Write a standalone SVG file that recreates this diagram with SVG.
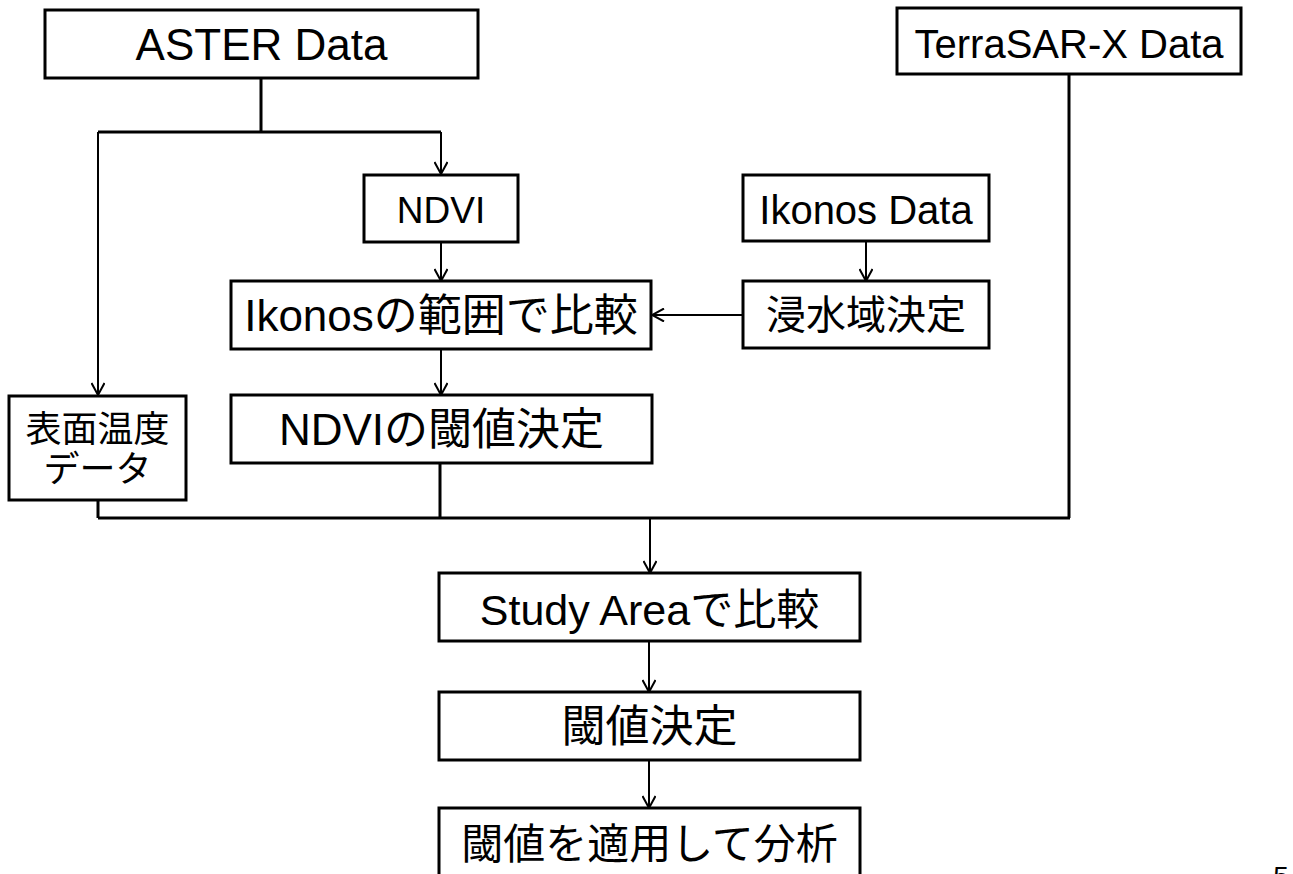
<svg xmlns="http://www.w3.org/2000/svg" width="1293" height="874" viewBox="0 0 1293 874">
<style>
.box{fill:#fff;stroke:#000;stroke-width:3}
.t{font-family:"Liberation Sans","Noto Sans CJK JP",Arial,sans-serif;fill:#000;text-anchor:middle}
.ln{fill:none;stroke:#000;stroke-width:3}
.ar{fill:none;stroke:#000;stroke-width:2;marker-end:url(#ah)}
</style>
<defs>
<marker id="ah" markerUnits="userSpaceOnUse" viewBox="0 0 14 14" refX="13" refY="7" markerWidth="14" markerHeight="14" orient="auto">
<path d="M1,0.5 L13,7 L1,13.5" fill="none" stroke="#000" stroke-width="2"/>
</marker>
</defs>
<rect width="1293" height="874" fill="#fff"/>
<g id="connectors">
<path class="ln" d="M261,78 V132 M98,132 H441"/>
<path class="ar" d="M98,132 V395"/>
<path class="ar" d="M441,132 V174"/>
<path class="ar" d="M441,242 V281"/>
<path class="ar" d="M866,241 V281"/>
<path class="ar" d="M743,315 H652"/>
<path class="ar" d="M441,349 V395"/>
<path class="ln" d="M98,500 V518 M440,463 V518 M1069,74 V518 M98,518 H1070"/>
<path class="ar" d="M650,518 V573"/>
<path class="ar" d="M649,641 V692"/>
<path class="ar" d="M649,760 V808"/>
</g>
<g id="aster"><rect class="box" x="45" y="10" width="433" height="68"/><text class="t" x="261.5" y="60" font-size="44">ASTER Data</text></g>
<g id="terrasar"><rect class="box" x="897" y="8" width="344" height="66"/><text class="t" x="1069" y="58" font-size="40">TerraSAR-X Data</text></g>
<g id="ndvi"><rect class="box" x="364" y="175" width="154" height="67"/><text class="t" x="441" y="223" font-size="37">NDVI</text></g>
<g id="ikonos"><rect class="box" x="743" y="175" width="246" height="66"/><text class="t" x="866" y="224" font-size="40">Ikonos Data</text></g>
<g id="hani"><rect class="box" x="231" y="281" width="420" height="68"/><text class="t" x="441" y="331" font-size="44">Ikonosの範囲で比較</text></g>
<g id="shinsui"><rect class="box" x="743" y="281" width="246" height="67"/><text class="t" x="866" y="329" font-size="40">浸水域決定</text></g>
<g id="hyomen"><rect class="box" x="9" y="396" width="177" height="104"/><text class="t" x="97.5" y="442" font-size="36">表面温度</text><text class="t" x="97.5" y="482" font-size="36">データ</text></g>
<g id="ndviikichi"><rect class="box" x="231" y="395" width="421" height="68"/><text class="t" x="441.5" y="445" font-size="44">NDVIの閾値決定</text></g>
<g id="study"><rect class="box" x="439" y="573" width="421" height="68"/><text class="t" x="649.5" y="625" font-size="43">Study Areaで比較</text></g>
<g id="ikichi"><rect class="box" x="439" y="692" width="421" height="68"/><text class="t" x="649.5" y="742" font-size="44">閾値決定</text></g>
<g id="tekiyo"><rect class="box" x="439" y="808" width="421" height="70"/><text class="t" x="649.5" y="859" font-size="42">閾値を適用して分析</text></g>
<text class="t" x="1281" y="886" font-size="28">5</text>
</svg>
